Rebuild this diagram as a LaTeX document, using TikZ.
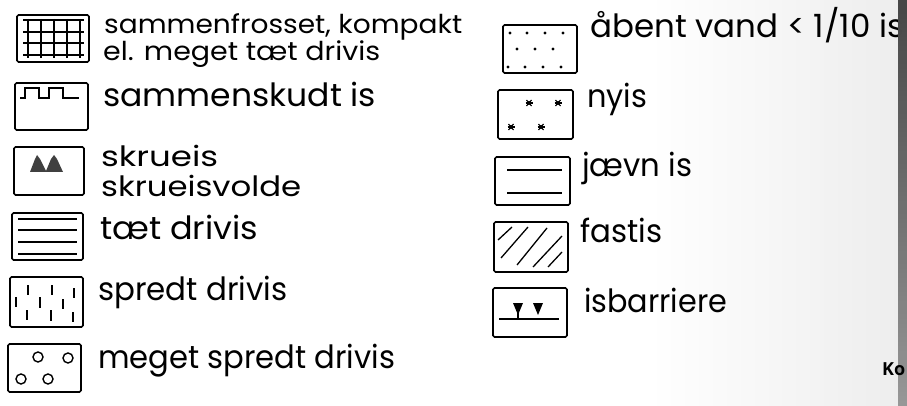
\documentclass[tikz,border=0pt]{standalone}
\usepackage{fontspec}
\setmainfont{Poppins}
\newfontfamily\kofont{Open Sans}
\newcommand\fitw[2]{\resizebox{#1pt}{\height}{#2}}
\newcommand\twolines[3]{\vtop{\baselineskip=#1pt\lineskiplimit=-100pt\lineskip=0pt\hbox{#2}\hbox{#3}}}
\begin{document}
\begin{tikzpicture}[x=1pt,y=-1pt,
  legbox/.style={draw, line width=1.7pt, rounded corners=1.5pt, inner sep=0pt},
  sym/.style={line width=1.3pt},
  lbl/.style={anchor=base west, inner sep=0pt, font=\fontsize{32}{32}\selectfont},
  lbls/.style={anchor=base west, inner sep=0pt, font=\fontsize{28}{28}\selectfont},
]
\useasboundingbox (0,0) rectangle (907,406);
\clip (0,0) rectangle (907,406);
\fill[left color=white, right color=black!7] (650,0) rectangle (898,406);

% ---------- left column boxes ----------
\node[legbox, minimum width=72pt, minimum height=47pt] (b1) at (53,38.5) {};
\node[legbox, minimum width=73pt, minimum height=47pt] (b2) at (51.5,106.5) {};
\node[legbox, minimum width=70pt, minimum height=48pt] (b3) at (49,171) {};
\node[legbox, minimum width=71pt, minimum height=47pt] (b4) at (47.5,236.5) {};
\node[legbox, minimum width=73pt, minimum height=50pt] (b5) at (46.5,302) {};
\node[legbox, minimum width=73pt, minimum height=48pt] (b6) at (44.5,368) {};
% ---------- right column boxes ----------
\node[legbox, minimum width=74pt, minimum height=48pt] (b7) at (540,49) {};
\node[legbox, minimum width=75pt, minimum height=49pt] (b8) at (535.5,114.5) {};
\node[legbox, minimum width=75pt, minimum height=48pt] (b9) at (532.5,181) {};
\node[legbox, minimum width=74pt, minimum height=50pt] (b10) at (531,247) {};
\node[legbox, minimum width=74pt, minimum height=49pt] (b11) at (530,312.5) {};

% grid
\foreach \y in {20,32,43,55} \draw[sym] (23,\y) -- (84,\y);
\foreach \x in {28,41,54,67,80} \draw[sym] (\x,19) -- (\x,58);
% square wave
\draw[sym] (20,98) -- (25,98) -- (25,88) -- (39,88) -- (39,98) -- (49,98) -- (49,88) -- (63,88) -- (63,98) -- (79,98);
% skrueis peaks
\fill[black!75] (30,172) -- (35,159) -- (37,155) -- (40,159) -- (46,171) -- (51,159) -- (54,155) -- (57,159) -- (63,172) -- cycle;
% taet drivis
\foreach \y in {219,230,242,254} \draw[sym] (18,\y) -- (77,\y);
% spredt drivis ticks
\foreach \x/\ya/\yb in {28/285/295, 52/285/295, 74/288/298, 16/297/307, 40/297/308, 63/299/309, 27/310/320, 51/310/321, 73/312/322}
  \draw[sym] (\x,\ya) -- (\x,\yb);
% meget spredt drivis circles
\foreach \x/\y in {38/357, 68/358, 21/379, 48/379} \draw[line width=1.4pt] (\x,\y) circle (5);
% aabent vand dots
\foreach \x/\y in {510/33,527/33,545/33,563/33,517/49,535/49,553/49,508/67,525/67,543/67,561/67}
  \fill (\x,\y) circle (1.7);
% nyis stars
\foreach \x/\y in {529/103,558/103,511/127,541/127} {
  \draw[line width=1.1pt] (\x-3.5,\y) -- (\x+3.5,\y);
  \draw[line width=1.1pt] (\x-2.5,\y-3) -- (\x+2.5,\y+3);
  \draw[line width=1.1pt] (\x-2.5,\y+3) -- (\x+2.5,\y-3);
  \fill (\x,\y) circle (2);
}
% jaevn is
\draw[sym] (507,170) -- (562,170);
\draw[sym] (507,193) -- (562,193);
% fastis hatching
\draw[sym] (498,240) -- (512,227);
\draw[sym] (501,258) -- (528,227);
\draw[sym] (517,265) -- (547,228);
\draw[sym] (533,267) -- (562,236);
\draw[sym] (548,267) -- (562,252);
% isbarriere
\draw[sym] (499,319) -- (559,319);
\fill (513,303) -- (523,303) -- (518,315) -- cycle;
\draw[line width=1.2pt] (518,313) -- (518,319);
\fill (533,303) -- (543,303) -- (538,315) -- cycle;

% ---------- labels ----------
\node[lbls, font=\fontsize{26}{26}\selectfont] (t1a) at (104,34) {\fitw{358}{sammenfrosset, kompakt}};
\node[lbls, font=\fontsize{26}{26}\selectfont] (t1b) at (103,61) {\fitw{277}{el. meget tæt drivis}};
\node[lbl] (t2) at (103,107) {\fitw{273}{sammenskudt is}};
\node[lbls] (t3) at (101,167)
  {\twolines{30}{\fitw{117}{skrueis}}{\fitw{200}{skrueisvolde}}};
\node[lbl] (t4) at (100,240) {\fitw{158}{tæt drivis}};
\node[lbl] (t5) at (98,300) {\fitw{189}{spredt drivis}};
\node[lbl] (t6) at (98,368) {\fitw{297}{meget spredt drivis}};
\node[lbl] (t7) at (590,38) {\fitw{314}{åbent vand < 1/10 is}};
\node[lbl] (t8) at (587,108) {\fitw{60}{nyis}};
\node[lbl] (t9) at (582,177) {\fitw{110}{jævn is}};
\node[lbl] (t10) at (580,242) {\fitw{82}{fastis}};
\node[lbl] (t11) at (584,312) {\fitw{143}{isbarriere}};

% right edge bar
\fill[top color=black!70, bottom color=black!35, opacity=0.9] (898,0) rectangle (907,406);
\node[anchor=base west, inner sep=0pt, font=\kofont\bfseries\fontsize{18}{18}\selectfont] (ko) at (882,375) {Ko};
\end{tikzpicture}
\end{document}
